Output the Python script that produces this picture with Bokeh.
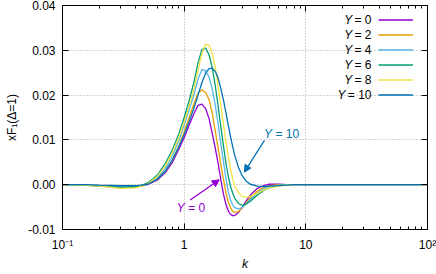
import math
from bokeh.plotting import figure
from bokeh.models import (Range1d, LogAxis, LinearAxis, FixedTicker, PrintfTickFormatter,
                          CustomJSTickFormatter, Label, Arrow, NormalHead, Legend, LegendItem,
                          ColumnDataSource)
from bokeh.embed import file_html
from bokeh.resources import INLINE

# ---------------- data ----------------
k = [0.1, 0.15, 0.2, 0.3, 0.4, 0.45, 0.5, 0.6, 0.7, 0.8, 0.9,
     1.0, 1.1, 1.2, 1.3, 1.4, 1.5, 1.6, 1.7, 1.8, 1.9, 2.0, 2.1, 2.2, 2.3, 2.4, 2.5, 2.6,
     2.8, 3.0, 3.2, 3.5, 4.0, 4.5, 5.0, 6.0, 7.0, 8.0, 10.0, 20.0, 50.0, 100.0]

y0 = [0.0, -0.0001, -0.0002, -0.0004, -0.0004, -0.0002, 0.0000,
      0.0010, 0.0027, 0.0050, 0.0078,
      0.0105, 0.0133, 0.0158, 0.0177, 0.0180, 0.0170, 0.0148, 0.0115, 0.0082, 0.0048, 0.0012,
      -0.0020, -0.0043, -0.0058, -0.0066, -0.0069, -0.0069,
      -0.0062, -0.0050, -0.0038, -0.0023, -0.0008, -0.0002, 0.0001,
      0.0001, 0.0, 0.0, 0.0, 0.0, 0.0, 0.0]
y2 = [0.0, -0.0001, -0.0003, -0.0006, -0.0005, -0.0003, 0.0001,
      0.0012, 0.0030, 0.0055, 0.0085,
      0.0118, 0.0150, 0.0180, 0.0204, 0.0212, 0.0206, 0.0190, 0.0160, 0.0120, 0.0082, 0.0045,
      0.0013, -0.0017, -0.0038, -0.0051, -0.0059, -0.0062,
      -0.0060, -0.0052, -0.0042, -0.0029, -0.0014, -0.0006, -0.0002,
      0.0, 0.0, 0.0, 0.0, 0.0, 0.0, 0.0]
y4 = [0.0, -0.0001, -0.0002, -0.0005, -0.0004, -0.0002, 0.0002,
      0.0015, 0.0036, 0.0064, 0.0097,
      0.0133, 0.0168, 0.0200, 0.0236, 0.0257, 0.0255, 0.0240, 0.0214, 0.0178, 0.0136, 0.0092,
      0.0053, 0.0016, -0.0015, -0.0034, -0.0045, -0.0051,
      -0.0054, -0.0051, -0.0044, -0.0033, -0.0018, -0.0009, -0.0004,
      -0.0001, 0.0, 0.0, 0.0, 0.0, 0.0, 0.0]
y6 = [0.0, -0.0001, -0.0003, -0.0006, -0.0004, -0.0001, 0.0004,
      0.0021, 0.0047, 0.0078, 0.0112,
      0.0150, 0.0188, 0.0228, 0.0272, 0.0302, 0.0305, 0.0290, 0.0262, 0.0222, 0.0176, 0.0130,
      0.0088, 0.0050, 0.0020, -0.0003, -0.0018, -0.0030,
      -0.0042, -0.0046, -0.0044, -0.0037, -0.0023, -0.0013, -0.0007,
      -0.0002, -0.0001, 0.0, 0.0, 0.0, 0.0, 0.0]
y8 = [0.0, -0.0001, -0.0003, -0.0008, -0.0007, -0.0003, 0.0002,
      0.0018, 0.0042, 0.0072, 0.0105,
      0.0140, 0.0176, 0.0212, 0.0255, 0.0293, 0.0314, 0.0311, 0.0294, 0.0262, 0.0220, 0.0177,
      0.0136, 0.0098, 0.0065, 0.0037, 0.0014, -0.0003,
      -0.0018, -0.0026, -0.0028, -0.0026, -0.0019, -0.0012, -0.0007,
      -0.0003, -0.0001, 0.0, 0.0, 0.0, 0.0, 0.0]
y10 = [0.0, 0.0, -0.0001, -0.0002, -0.0002, -0.0001, 0.0001,
       0.0012, 0.0030, 0.0055, 0.0083,
       0.0112, 0.0141, 0.0170, 0.0200, 0.0228, 0.0249, 0.0259, 0.0260, 0.0253, 0.0238, 0.0215,
       0.0190, 0.0162, 0.0134, 0.0108, 0.0086, 0.0066,
       0.0038, 0.0020, 0.0009, 0.0001, -0.0003, -0.0004, -0.0003,
       -0.0002, -0.0001, 0.0, 0.0, 0.0, 0.0, 0.0]

series = [y0, y2, y4, y6, y8, y10]
series_names = ["0", "2", "4", "6", "8", "10"]
colors = ["#9400d3", "#e69f00", "#56b4e9", "#009e73", "#f0e442", "#0072b2"]

x_ticks = [0.1, 1, 10, 100]
x_tick_labels = {0.1: "10\u207b\u00b9", 1: "1", 10: "10", 100: "10\u00b2"}
x_minor = [m * d for d in (0.1, 1, 10) for m in range(2, 10)]
y_ticks = [-0.01, 0.0, 0.01, 0.02, 0.03, 0.04]
x_label = "k"
y_label = "xF\u2081(\u0394=1)"

# annotation arrows (data coords): (x_start, y_start, x_end, y_end)
arrow_y0 = (1.12, -0.0034, 1.944, 0.0011)
arrow_y10 = (4.57, 0.0099, 3.12, 0.0028)
# annotation text anchors (data coords, left edge / middle)
text_y0 = (0.87, -0.0053)
text_y10 = (4.54, 0.0114)

# ---------------- layout ----------------
FONT = "Liberation Sans"
FS = 12
W, H = 436, 274
L, R, T, B = 62, 427, 5, 229   # frame edges in figure px
X0, X1, Y0, Y1 = 0.1, 100, -0.01, 0.04

p = figure(width=W, height=H, x_axis_type="log",
           x_range=Range1d(X0, X1), y_range=Range1d(Y0, Y1),
           output_backend="svg", toolbar_location=None,
           min_border_left=L, min_border_right=W - R,
           min_border_top=T, min_border_bottom=H - B)
p.outline_line_color = None
p.background_fill_color = "white"
p.border_fill_color = "white"

def style_axis(ax, ticks, minor, show_labels):
    ax.ticker = FixedTicker(ticks=ticks, minor_ticks=minor)
    ax.axis_line_color = "black"
    ax.axis_line_width = 1
    ax.major_tick_in = 6
    ax.major_tick_out = 0
    ax.minor_tick_in = 3
    ax.minor_tick_out = 0
    ax.major_tick_line_color = "black"
    ax.minor_tick_line_color = "black" if minor else None
    ax.major_label_text_font = FONT
    ax.major_label_text_font_size = f"{FS}px"
    ax.major_label_text_color = "black"
    ax.axis_label_text_font = FONT
    ax.axis_label_text_font_size = f"{FS}px"
    ax.axis_label_text_color = "black"
    if not show_labels:
        ax.formatter = CustomJSTickFormatter(code="return ''")
        ax.major_label_standoff = 0

xb = p.xaxis[0]
style_axis(xb, x_ticks, x_minor, True)
xb.major_label_overrides = x_tick_labels
xb.major_label_standoff = 8
xb.axis_label = x_label
xb.axis_label_text_font_style = "italic"
xb.axis_label_standoff = 2

yl = p.yaxis[0]
style_axis(yl, y_ticks, [], True)
yl.formatter = PrintfTickFormatter(format="%.2f")
yl.major_label_standoff = 7
yl.axis_label = y_label
yl.axis_label_text_font_style = "normal"
yl.axis_label_standoff = 6

xt = LogAxis()
style_axis(xt, x_ticks, x_minor, False)
p.add_layout(xt, "above")
yr = LinearAxis()
style_axis(yr, y_ticks, [], False)
p.add_layout(yr, "right")

p.xgrid.ticker = FixedTicker(ticks=x_ticks)
p.ygrid.ticker = FixedTicker(ticks=y_ticks)
for g in (p.xgrid[0], p.ygrid[0]):
    g.grid_line_color = "#a8a8a8"
    g.grid_line_dash = "1 2"
    g.grid_line_width = 1

# ---------------- curves ----------------
renderers = []
for ys, c in zip(series, colors):
    src = ColumnDataSource(dict(k=k, v=ys))
    r = p.line("k", "v", source=src, line_color=c, line_width=1.3)
    renderers.append(r)

# ---------------- helpers for text ----------------
ADV = {"Y": 0.667, " ": 0.278, "=": 0.584}
def tw(s, fs=FS):
    return sum(ADV.get(ch, 0.556) for ch in s) * fs

def kx(px):   # figure px -> data x
    return 10 ** (math.log10(X0) + (px - L) / (R - L) * (math.log10(X1) - math.log10(X0)))
def vy(py):   # figure px -> data y
    return Y1 - (py - T) / (B - T) * (Y1 - Y0)

def add_label(x, y, text, **kw):
    kw.setdefault("text_font", FONT)
    kw.setdefault("text_font_size", f"{FS}px")
    kw.setdefault("text_color", "black")
    p.add_layout(Label(x=x, y=y, text=text, **kw))

# ---------------- legend (text right-aligned, sample line to the right) ----------------
row0, row_h = 19.5, 15
text_right, line_left = 371, 378
items = [LegendItem(label=" ", renderers=[r]) for r in renderers]
leg = Legend(items=items,
             location=(line_left - L, B - (row0 - row_h / 2 + row_h * len(items))),
             glyph_width=35, glyph_height=row_h, spacing=0, padding=0, margin=0,
             label_standoff=0, label_width=0, label_height=0,
             label_text_font_size="1px", border_line_color=None,
             background_fill_alpha=0)
p.add_layout(leg, "center")
for i, name in enumerate(series_names):
    yc = vy(row0 + row_h * i)
    rest = "= " + name
    add_label(kx(text_right), yc, rest, text_align="right", text_baseline="middle")
    add_label(kx(text_right), yc, "Y", text_align="right", text_baseline="middle",
              text_font_style="italic", x_offset=-(tw(rest) + tw(" ")) + 1)

# ---------------- annotations ----------------
for (xs0, ys0, xe, ye), c in ((arrow_y0, colors[0]), (arrow_y10, colors[5])):
    p.add_layout(Arrow(end=NormalHead(size=7, fill_color=c, line_color=c, line_width=1),
                       x_start=xs0, y_start=ys0, x_end=xe, y_end=ye,
                       line_color=c, line_width=1.3))

def mixed(anchor, rest, color):
    add_label(anchor[0], anchor[1], "Y", text_baseline="middle",
              text_font_style="italic", text_color=color)
    add_label(anchor[0], anchor[1], rest, text_baseline="middle",
              text_color=color, x_offset=tw("Y "))

mixed(text_y0, "= 0", colors[0])
mixed(text_y10, "= 10", colors[5])

open("out.html", "w").write(file_html(p, INLINE))
